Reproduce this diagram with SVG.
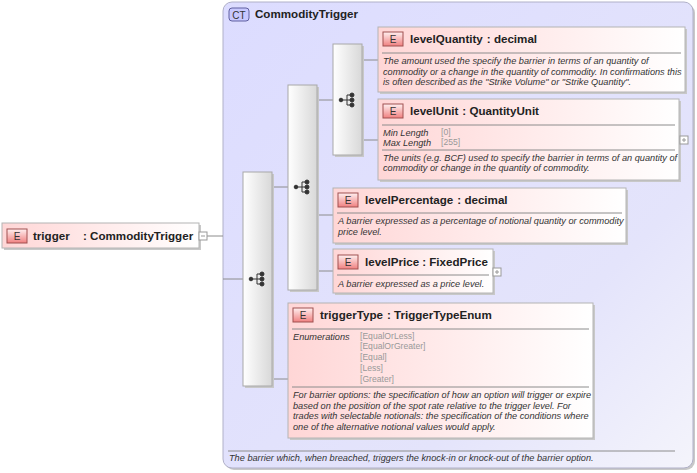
<svg xmlns="http://www.w3.org/2000/svg" width="697" height="473" viewBox="0 0 697 473">
<defs>
<linearGradient id="eg" x1="0" y1="0" x2="1" y2="0"><stop offset="0" stop-color="#ffd6d6"/><stop offset="1" stop-color="#ffffff"/></linearGradient>
<linearGradient id="ctg" x1="0" y1="0" x2="1" y2="1"><stop offset="0" stop-color="#dcdcff"/><stop offset="0.7" stop-color="#e4e4fb"/><stop offset="1" stop-color="#f4f4fb"/></linearGradient>
<linearGradient id="sg" x1="0" y1="0" x2="1" y2="0"><stop offset="0" stop-color="#ffffff"/><stop offset="1" stop-color="#d8d8d8"/></linearGradient>
<linearGradient id="bg" x1="0" y1="0" x2="0" y2="1"><stop offset="0" stop-color="#fff0f0"/><stop offset="1" stop-color="#f08080"/></linearGradient>
<g id="seq"><line x1="-6" y1="0" x2="0" y2="0"/><line x1="0" y1="-5" x2="0" y2="5"/><line x1="0" y1="-5" x2="4" y2="-5"/><line x1="0" y1="5" x2="4" y2="5"/><line x1="0" y1="0" x2="4" y2="0"/><circle cx="-6" cy="0" r="1.8"/><circle cx="5" cy="-5" r="2"/><circle cx="5" cy="0" r="2"/><circle cx="5" cy="5" r="2"/></g>
<g id="eb"><rect x="0" y="0" width="20" height="14" fill="url(#bg)" stroke="#a05050" stroke-width="1"/><text x="10" y="11" text-anchor="middle" class="b">E</text></g>
</defs>
<style>
.el{fill:url(#eg);stroke:#b4b4b4;stroke-width:1}
.sh{fill:#c8c8c8}
.sq{fill:url(#sg);stroke:#a8a8a8}
.ln{stroke:#8c8c8c;stroke-width:1;fill:none}
.sp{stroke:#8c8c8c;stroke-width:1}
.n{font-family:"Liberation Sans",Arial,sans-serif;font-weight:bold;font-size:11.6px;fill:#222}
.b{font-family:"Liberation Sans",Arial,sans-serif;font-size:10px;fill:#333}
.d{font-family:"Liberation Sans",Arial,sans-serif;font-style:italic;font-size:9.2px;fill:#333}
.v{font-family:"Liberation Sans",Arial,sans-serif;font-size:8.6px;fill:#999}
.ic{stroke:#333;fill:#333;stroke-width:1}
.pm{fill:#fff;stroke:#999}
</style>
<g id="CommodityTrigger">
<rect x="225" y="4" width="470" height="466" rx="9" fill="#c8c8c8"/>
<rect x="223" y="2" width="470" height="466" rx="9" fill="url(#ctg)" stroke="#b0b0c8"/>
<rect x="229" y="8" width="20" height="13" rx="3" fill="#c8c8ff" stroke="#6060a0"/>
<text x="239" y="18.5" text-anchor="middle" class="b">CT</text>
<text x="255" y="18" class="n">CommodityTrigger</text>
<line x1="228" y1="451" x2="675" y2="451" class="sp"/>
<text x="229" y="461" class="d">The barrier which, when breached, triggers the knock-in or knock-out of the barrier option.</text>
</g>
<g id="connectors">
<path class="ln" d="M207 236H223M223 279H243M272 187H288M317 100H333M362 60H378M362 140H378M317 215H333M317 271H333M272 379H288"/>
</g>
<g id="seq1"><rect x="245" y="174" width="29" height="214" class="sh"/><rect x="243" y="172" width="29" height="214" class="sq"/><use href="#seq" x="257" y="279" class="ic"/></g>
<g id="seq2"><rect x="290" y="87" width="29" height="205" class="sh"/><rect x="288" y="85" width="29" height="205" class="sq"/><use href="#seq" x="302" y="187" class="ic"/></g>
<g id="seq3"><rect x="335" y="46" width="29" height="111" class="sh"/><rect x="333" y="44" width="29" height="111" class="sq"/><use href="#seq" x="347" y="100" class="ic"/></g>
<g id="trigger">
<rect x="4" y="225" width="197" height="25" class="sh"/><rect x="2" y="223" width="197" height="25" class="el"/>
<use href="#eb" x="7" y="229"/>
<text x="33" y="240" class="n">trigger</text><text x="83" y="240" class="n">: CommodityTrigger</text>
<rect x="199" y="232" width="8" height="8" class="pm"/><line x1="201" y1="236" x2="205" y2="236" stroke="#999"/>
</g>
<g id="levelQuantity">
<rect x="380" y="29" width="307" height="65" class="sh"/><rect x="378" y="27" width="307" height="65" class="el"/>
<use href="#eb" x="383" y="32"/>
<text x="410" y="43" class="n">levelQuantity<tspan dx="4">: decimal</tspan></text>
<line x1="382" y1="53" x2="681" y2="53" class="sp"/>
<text class="d"><tspan x="383" y="64">The amount used the specify the barrier in terms of an quantity of</tspan><tspan x="383" y="75">commodity or a change in the quantity of commodity. In confirmations this</tspan><tspan x="383" y="85">is often described as the "Strike Volume" or "Strike Quantity".</tspan></text>
</g>
<g id="levelUnit">
<rect x="380" y="101" width="301" height="81" class="sh"/><rect x="378" y="99" width="301" height="81" class="el"/>
<use href="#eb" x="383" y="104"/>
<text x="410" y="115" class="n">levelUnit<tspan dx="4">: QuantityUnit</tspan></text>
<line x1="382" y1="125" x2="675" y2="125" class="sp"/>
<text x="383" y="136" class="d">Min Length</text><text x="441" y="135" class="v">[0]</text>
<text x="383" y="146" class="d">Max Length</text><text x="441" y="145" class="v">[255]</text>
<line x1="382" y1="150" x2="675" y2="150" class="sp"/>
<text class="d"><tspan x="383" y="161">The units (e.g. BCF) used to specify the barrier in terms of an quantity of</tspan><tspan x="383" y="171">commodity or change in the quantity of commodity.</tspan></text>
<rect x="680" y="136" width="8" height="8" class="pm"/><path d="M682 140H686M684 138V142" stroke="#999"/>
</g>
<g id="levelPercentage">
<rect x="335" y="190" width="293" height="55" class="sh"/><rect x="333" y="188" width="293" height="55" class="el"/>
<use href="#eb" x="338" y="193"/>
<text x="365" y="204" class="n">levelPercentage<tspan dx="4">: decimal</tspan></text>
<line x1="337" y1="213" x2="622" y2="213" class="sp"/>
<text class="d"><tspan x="338" y="224">A barrier expressed as a percentage of notional quantity or commodity</tspan><tspan x="338" y="235">price level.</tspan></text>
</g>
<g id="levelPrice">
<rect x="335" y="251" width="160" height="44" class="sh"/><rect x="333" y="249" width="160" height="44" class="el"/>
<use href="#eb" x="338" y="255"/>
<text x="365" y="266" class="n">levelPrice<tspan dx="3">: FixedPrice</tspan></text>
<line x1="337" y1="275" x2="489" y2="275" class="sp"/>
<text x="338" y="287" class="d">A barrier expressed as a price level.</text>
<rect x="493" y="268" width="8" height="8" class="pm"/><path d="M495 272H499M497 270V274" stroke="#999"/>
</g>
<g id="triggerType">
<rect x="290" y="305" width="305" height="135" class="sh"/><rect x="288" y="303" width="305" height="135" class="el"/>
<use href="#eb" x="293" y="308"/>
<text x="320" y="319" class="n">triggerType<tspan dx="4">: TriggerTypeEnum</tspan></text>
<line x1="292" y1="329" x2="589" y2="329" class="sp"/>
<text x="293" y="340" class="d">Enumerations</text>
<text class="v"><tspan x="360" y="339">[EqualOrLess]</tspan><tspan x="360" y="349">[EqualOrGreater]</tspan><tspan x="360" y="360">[Equal]</tspan><tspan x="360" y="371">[Less]</tspan><tspan x="360" y="382">[Greater]</tspan></text>
<line x1="292" y1="387" x2="589" y2="387" class="sp"/>
<text class="d"><tspan x="293" y="398">For barrier options: the specification of how an option will trigger or expire</tspan><tspan x="293" y="409">based on the position of the spot rate relative to the trigger level. For</tspan><tspan x="293" y="419">trades with selectable notionals: the specification of the conditions where</tspan><tspan x="293" y="430">one of the alternative notional values would apply.</tspan></text>
</g>
</svg>
